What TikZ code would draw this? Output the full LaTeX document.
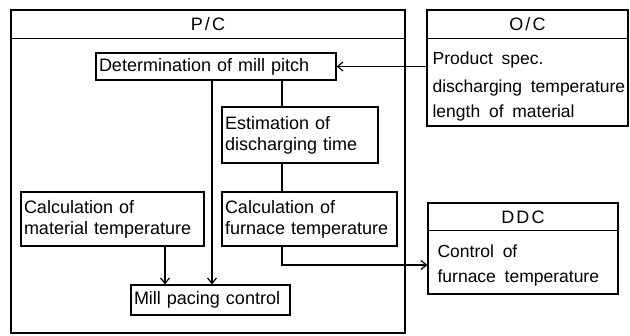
\documentclass[tikz,border=0pt]{standalone}
\usepackage{fontspec}
\setmainfont[WordSpace=1.8]{Liberation Sans}
\usetikzlibrary{arrows.meta}

\begin{document}
\begin{tikzpicture}[x=1pt, y=1pt, line width=1.2pt,
  every node/.style={font=\fontsize{18}{21}\selectfont},
  >={Straight Barb[length=5.5pt,width=9pt]},
  frame/.style={draw, inner sep=0pt},
  title/.style={font=\fontsize{18}{21}\selectfont\addfontfeature{LetterSpace=12}},
  block/.style={draw, inner xsep=3pt, inner ysep=1pt, align=left},
  item/.style={anchor=west, inner sep=0pt, font=\fontsize{17.5}{21}\selectfont}]
  \useasboundingbox (0,0) rectangle (630,336);

  % P/C frame
  \node[frame, minimum width=394pt, minimum height=323pt] (pc) at (208,164.5) {};
  \node[title] (pcTitle) at (208,311.5) {P/C};
  \draw ([yshift=-29pt]pc.north west) -- ([yshift=-29pt]pc.north east);

  % O/C frame
  \node[frame, minimum width=201pt, minimum height=116pt] (oc) at (527.5,268) {};
  \node[title] (ocTitle) at (527.5,311.5) {O/C};
  \draw ([yshift=-29pt]oc.north west) -- ([yshift=-29pt]oc.north east);
  \node[item] (ocSpec) at (432,276) {Product spec.};
  \node[item] (ocTemp) at (432,248) {discharging temperature};
  \node[item] (ocLen) at (432,223) {length of material};

  % DDC frame
  \node[frame, minimum width=190pt, minimum height=91pt] (ddc) at (523,87.5) {};
  \node[title] (ddcTitle) at (523,119) {DDC};
  \draw ([yshift=-28pt]ddc.north west) -- ([yshift=-28pt]ddc.north east);
  \node[item] (ddcCtrl) at (437,85) {Control of};
  \node[item] (ddcFurn) at (437,58) {furnace temperature};

  % blocks inside P/C
  \node[block, text width=234pt, minimum height=27pt] (det) at (216,269.5) {Determination of mill pitch};
  \node[block, text width=150pt, minimum height=56pt] (est) at (300,201) {Estimation of\\discharging time};
  \node[block, text width=169pt, minimum height=54pt] (cf) at (309.5,117) {Calculation of\\furnace temperature};
  \node[block, text width=177pt, minimum height=54pt] (cm) at (112.5,117) {Calculation of\\material temperature};
  \node[block, text width=153pt, minimum height=30pt] (mill) at (210.5,36) {Mill pacing control};

  % connectors
  \draw[->] (oc.west |- det.east) -- (det.east);
  \draw[->] ([xshift=-4pt]det.south) -- ([xshift=-4pt]det.south |- mill.north);
  \draw ([xshift=-18pt]est.north |- det.south) -- ([xshift=-18pt]est.north);
  \draw ([xshift=-18pt]est.south) -- ([xshift=-18pt]est.south |- cf.north);
  \draw[->] ([xshift=-18pt]est.south |- cf.south) |- ([yshift=-16.5pt]ddc.west);
  \draw[->] ([xshift=52.5pt]cm.south) -- ([xshift=52.5pt]cm.south |- mill.north);
\end{tikzpicture}
\end{document}
